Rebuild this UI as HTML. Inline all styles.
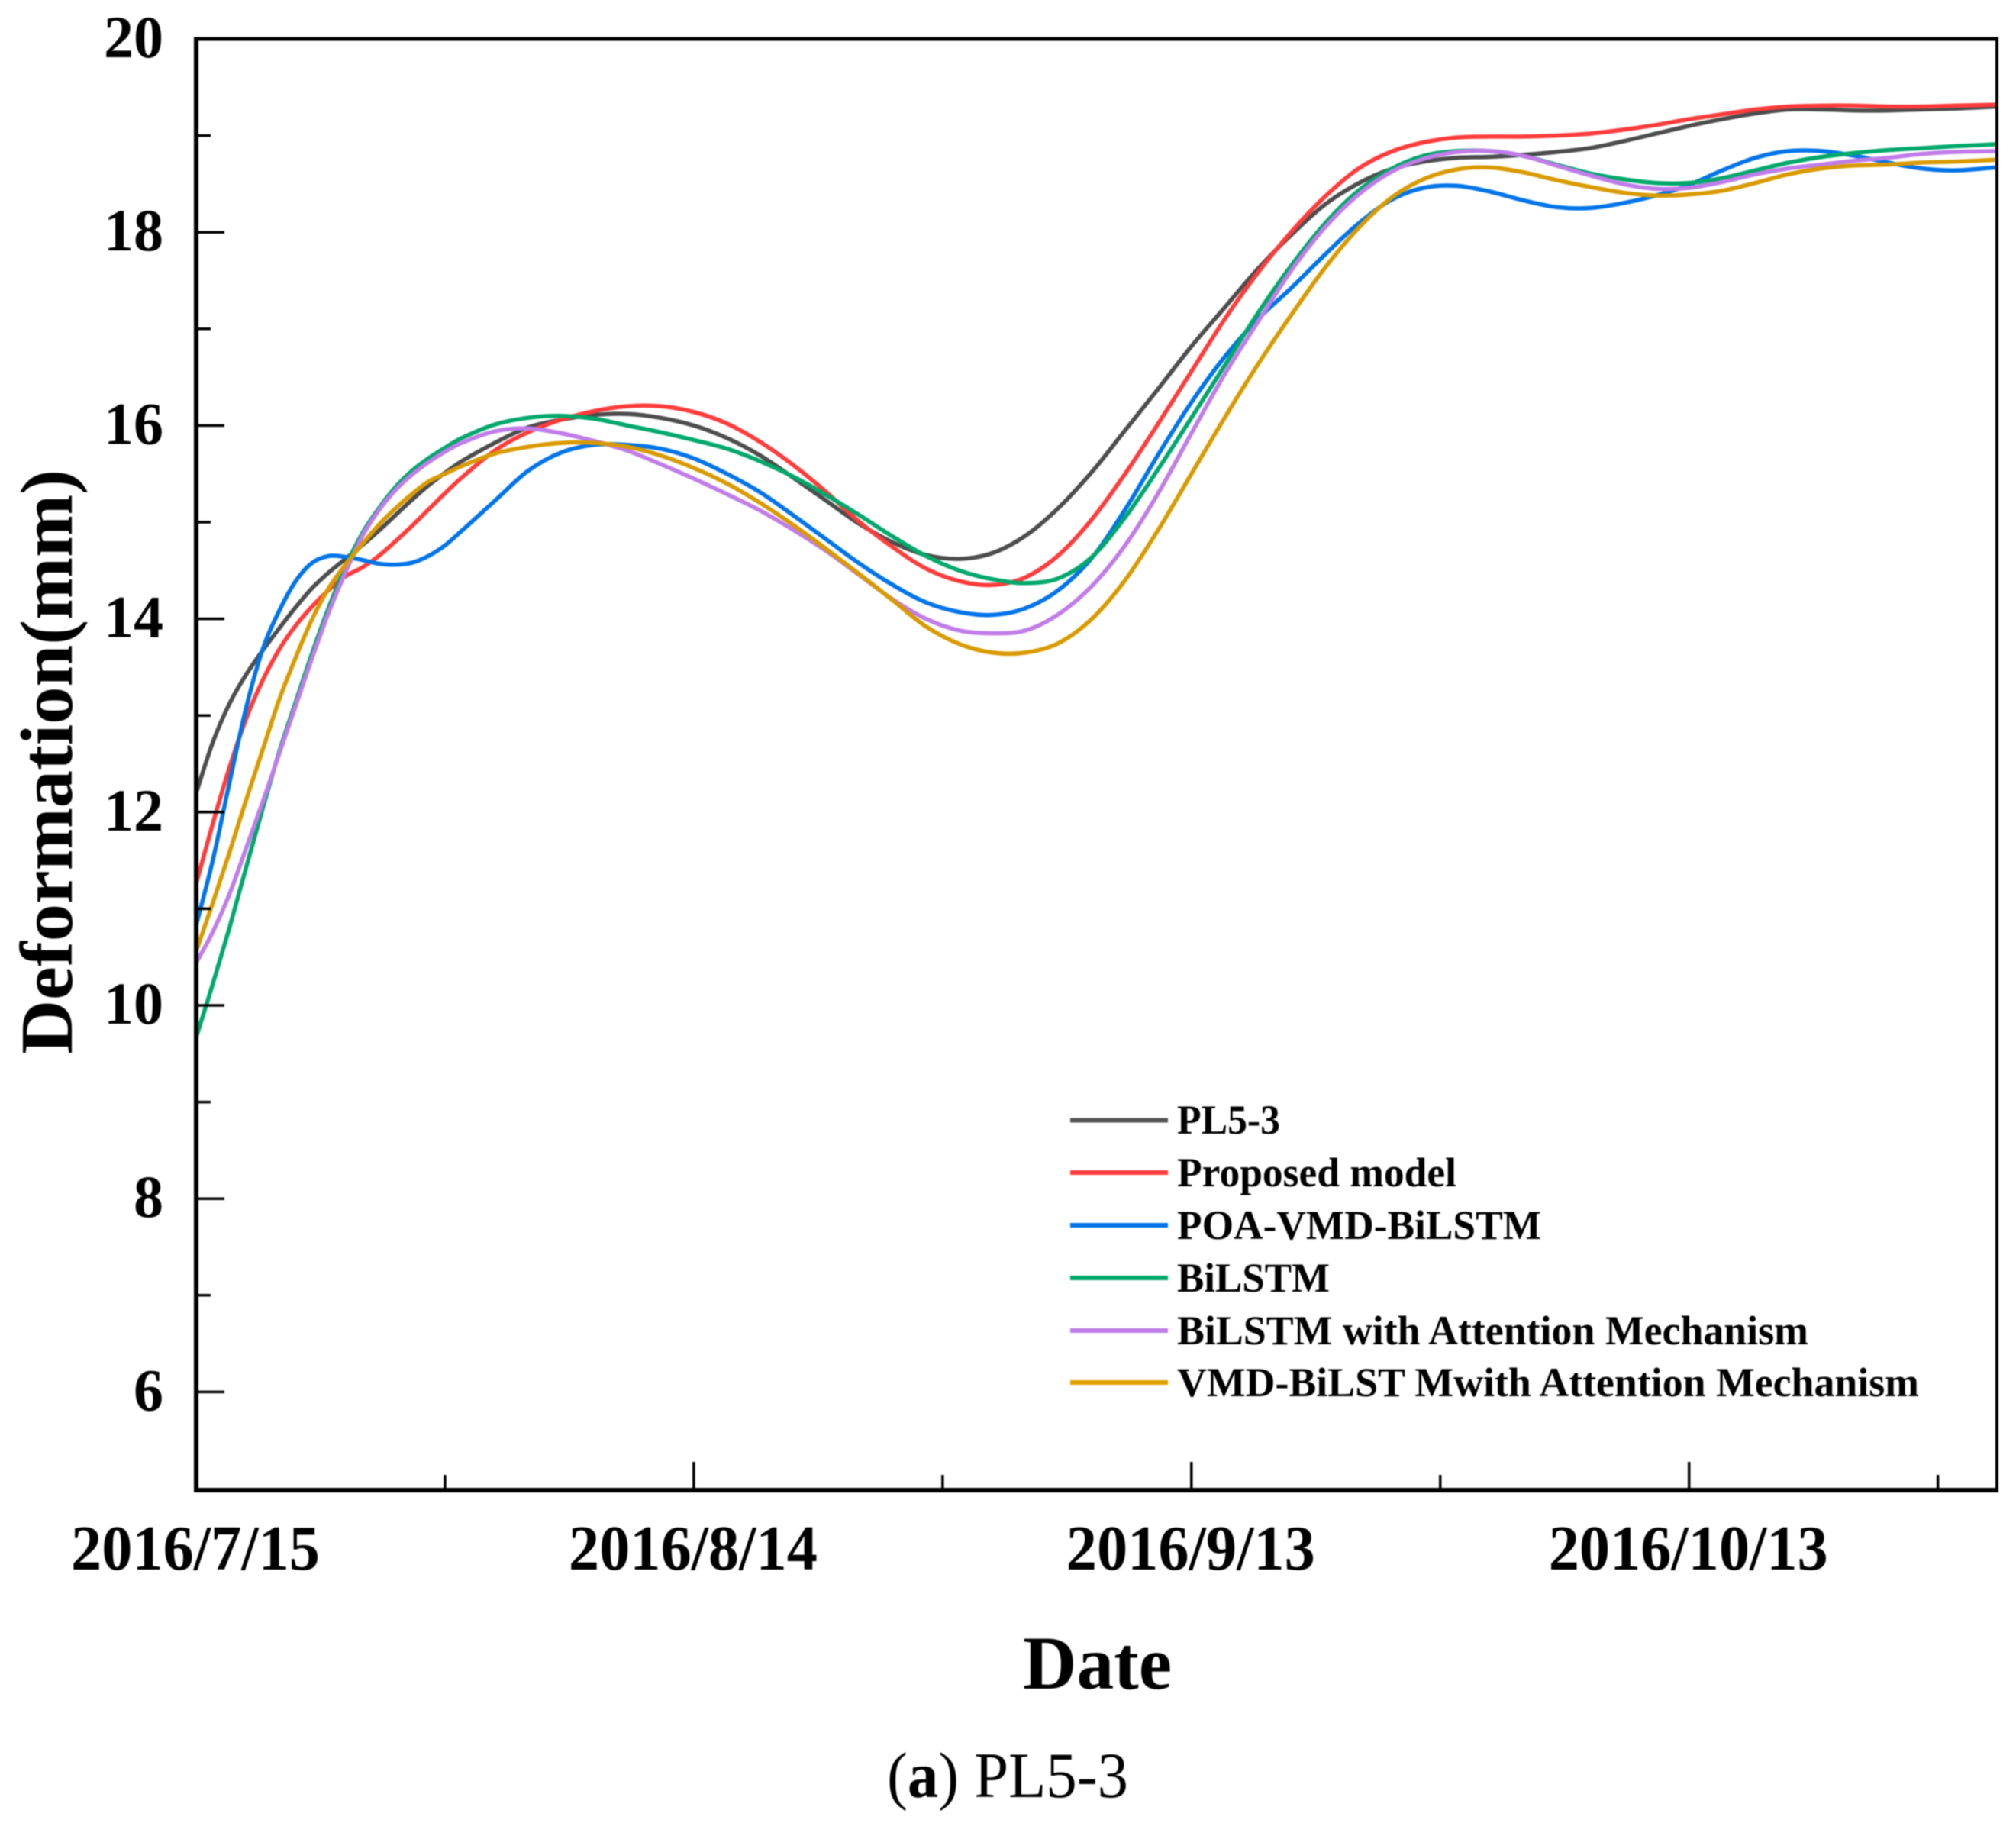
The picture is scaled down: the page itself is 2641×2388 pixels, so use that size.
<!DOCTYPE html>
<html lang="en">
<head>
<meta charset="utf-8">
<title>PL5-3 deformation</title>
<style>
html,body{margin:0;padding:0;background:#fff;}
svg{display:block;filter:blur(0.8px);}
text{font-family:"Liberation Serif",serif;fill:#000;}
.b{font-weight:bold;}
</style>
</head>
<body>
<svg id="chart" xmlns="http://www.w3.org/2000/svg" width="2641" height="2388" viewBox="0 0 2641 2388">
<rect x="0" y="0" width="2641" height="2388" fill="#ffffff"/>
<g id="lines" fill="none" stroke-width="5.5" stroke-linejoin="round"></g>
<g id="axes" stroke="#000" fill="none"></g>
<g id="ylabels"></g>
<g id="xlabels"></g>
<text class="b" font-size="98" text-anchor="middle" textLength="766" lengthAdjust="spacingAndGlyphs" transform="translate(94 998) rotate(-90)">Deformation(mm)</text>
<text class="b" font-size="100" x="1340" y="2212" textLength="195" lengthAdjust="spacingAndGlyphs">Date</text>
<g>
<g>
<line x1="1402" x2="1530" y1="1467.5" y2="1467.5" stroke="#555555" stroke-width="6"/>
<text class="b" font-size="54" x="1542" y="1485" textLength="135" lengthAdjust="spacingAndGlyphs">PL5-3</text>
</g>
<g>
<line x1="1402" x2="1530" y1="1536" y2="1536" stroke="#ff3b3b" stroke-width="6"/>
<text class="b" font-size="54" x="1542" y="1554" textLength="366" lengthAdjust="spacingAndGlyphs">Proposed model</text>
</g>
<g>
<line x1="1402" x2="1530" y1="1605" y2="1605" stroke="#0074e8" stroke-width="6"/>
<text class="b" font-size="54" x="1542" y="1623" textLength="477" lengthAdjust="spacingAndGlyphs">POA-VMD-BiLSTM</text>
</g>
<g>
<line x1="1402" x2="1530" y1="1674" y2="1674" stroke="#00a86b" stroke-width="6"/>
<text class="b" font-size="54" x="1542" y="1692" textLength="200" lengthAdjust="spacingAndGlyphs">BiLSTM</text>
</g>
<g>
<line x1="1402" x2="1530" y1="1743" y2="1743" stroke="#c07ce8" stroke-width="6"/>
<text class="b" font-size="54" x="1542" y="1761" textLength="827" lengthAdjust="spacingAndGlyphs">BiLSTM with Attention Mechanism</text>
</g>
<g>
<line x1="1402" x2="1530" y1="1811" y2="1811" stroke="#e0a000" stroke-width="6"/>
<text class="b" font-size="54" x="1542" y="1829" textLength="972" lengthAdjust="spacingAndGlyphs">VMD-BiLST Mwith Attention Mechanism</text>
</g>
</g>
<text font-size="85" x="1162" y="2354" textLength="316" lengthAdjust="spacingAndGlyphs">(<tspan class="b">a</tspan>) PL5-3</text>
</svg>
<script>
// Days since 2016/7/15 at which values were read
const days = [0,1,2,3,4,5,6,7,8,9,10,11,12,13,14,15,16,18,20,22,24,26,28,30,32,34,36,38,40,42,44,46,48,50,52,54,56,58,60,62,64,66,68,70,72,74,76,78,80,82,84,86,88,90,92,94,96,98,100,102,104,106,108.5];

const pl53Values = [12.2,12.72,13.12,13.42,13.67,13.9,14.12,14.32,14.48,14.62,14.76,14.91,15.07,15.23,15.38,15.51,15.63,15.82,15.98,16.06,16.11,16.12,16.08,16.0,15.87,15.69,15.46,15.22,14.98,14.79,14.66,14.62,14.68,14.86,15.15,15.52,15.95,16.38,16.82,17.22,17.62,17.97,18.28,18.5,18.65,18.73,18.77,18.78,18.8,18.83,18.87,18.94,19.02,19.1,19.17,19.23,19.27,19.27,19.26,19.26,19.27,19.28,19.3];
const proposedValues = [11.26,11.88,12.46,12.96,13.36,13.68,13.93,14.13,14.3,14.44,14.53,14.65,14.8,14.96,15.13,15.3,15.46,15.74,15.93,16.06,16.15,16.2,16.2,16.14,16.02,15.83,15.59,15.31,15.0,14.74,14.52,14.39,14.35,14.43,14.66,15.03,15.5,16.02,16.56,17.1,17.58,18.0,18.36,18.65,18.83,18.93,18.98,18.99,18.99,19.0,19.02,19.06,19.11,19.17,19.22,19.27,19.3,19.31,19.31,19.3,19.3,19.31,19.32];
const poaVmdValues = [10.83,11.5,12.3,13.07,13.68,14.08,14.39,14.58,14.65,14.64,14.61,14.57,14.56,14.58,14.65,14.76,14.91,15.22,15.53,15.72,15.8,15.8,15.76,15.66,15.5,15.31,15.07,14.82,14.57,14.35,14.17,14.07,14.04,14.11,14.3,14.63,15.13,15.7,16.24,16.71,17.1,17.42,17.76,18.08,18.33,18.46,18.48,18.42,18.33,18.26,18.25,18.3,18.38,18.49,18.64,18.77,18.84,18.84,18.79,18.72,18.66,18.64,18.67];
const bilstmValues = [9.67,10.22,10.8,11.42,12.03,12.62,13.14,13.65,14.12,14.54,14.88,15.14,15.36,15.53,15.66,15.77,15.87,16.01,16.08,16.1,16.07,16.0,15.93,15.85,15.76,15.63,15.47,15.28,15.07,14.85,14.65,14.5,14.41,14.37,14.42,14.64,15.05,15.55,16.08,16.62,17.16,17.65,18.08,18.42,18.65,18.79,18.84,18.84,18.79,18.7,18.61,18.55,18.51,18.51,18.56,18.64,18.72,18.78,18.82,18.85,18.87,18.89,18.91];
const bilstmAttentionValues = [10.44,10.76,11.15,11.62,12.1,12.6,13.1,13.6,14.07,14.48,14.85,15.12,15.33,15.49,15.62,15.73,15.82,15.94,15.97,15.92,15.84,15.74,15.6,15.45,15.29,15.12,14.92,14.7,14.45,14.2,14.0,13.88,13.85,13.88,14.05,14.34,14.76,15.3,15.92,16.53,17.07,17.6,18.04,18.38,18.62,18.76,18.83,18.84,18.79,18.69,18.59,18.5,18.45,18.46,18.52,18.6,18.66,18.7,18.74,18.77,18.81,18.83,18.84];
const vmdBilstmAttentionValues = [10.56,11.06,11.58,12.12,12.64,13.16,13.6,14.0,14.32,14.56,14.77,14.97,15.14,15.29,15.42,15.5,15.58,15.71,15.78,15.82,15.82,15.78,15.69,15.56,15.4,15.2,14.97,14.72,14.46,14.19,13.92,13.74,13.65,13.65,13.75,14.0,14.4,14.92,15.5,16.08,16.63,17.14,17.62,18.03,18.35,18.55,18.65,18.67,18.62,18.54,18.47,18.41,18.38,18.39,18.43,18.51,18.6,18.66,18.69,18.7,18.72,18.73,18.75];

const yMajorTicks = [20,18,16,14,12,10,8,6];
const yMinorTicks = [19,17,15,13,11,9,7];
const xMajorTickDays = [0,30,60,90];
const xMinorTickDays = [15,45,75,105];
const xTickLabels = ["2016/7/15","2016/8/14","2016/9/13","2016/10/13"];

const NS = "http://www.w3.org/2000/svg";
function xScale(day){ return 257 + day * 21.73; }
function yScale(v){ return 51 + (20 - v) * 126.6; }

function curvePath(xs, ys){
  const n = xs.length;
  const px = xs.map(xScale), py = ys.map(yScale);
  const m = [];
  for(let i=0;i<n;i++){
    const a = Math.max(0,i-1), b = Math.min(n-1,i+1);
    m.push((py[b]-py[a])/(px[b]-px[a]));
  }
  let d = "M"+px[0].toFixed(1)+" "+py[0].toFixed(1);
  for(let i=0;i<n-1;i++){
    const h = (px[i+1]-px[i])/3;
    d += "C"+(px[i]+h).toFixed(1)+" "+(py[i]+m[i]*h).toFixed(1)+" "+(px[i+1]-h).toFixed(1)+" "+(py[i+1]-m[i+1]*h).toFixed(1)+" "+px[i+1].toFixed(1)+" "+py[i+1].toFixed(1);
  }
  return d;
}

const linesGroup = document.getElementById("lines");
function addSeries(name, values, color){
  const p = document.createElementNS(NS,"path");
  p.setAttribute("d", curvePath(days, values));
  p.setAttribute("stroke", color);
  
  
  linesGroup.appendChild(p);
}
addSeries("line-pl5-3", pl53Values, "#4d4d4d");
addSeries("line-proposed-model", proposedValues, "#ff3b3b");
addSeries("line-poa-vmd-bilstm", poaVmdValues, "#0074e8");
addSeries("line-bilstm", bilstmValues, "#00a86b");
addSeries("line-bilstm-attention", bilstmAttentionValues, "#c07ce8");
addSeries("line-vmd-bilstm-attention", vmdBilstmAttentionValues, "#d99a00");

const axesGroup = document.getElementById("axes");
function addLine(name, x1, y1, x2, y2, w){
  const l = document.createElementNS(NS,"line");
  l.setAttribute("x1",x1); l.setAttribute("y1",y1);
  l.setAttribute("x2",x2); l.setAttribute("y2",y2);
  l.setAttribute("stroke-width",w);
  
  
  axesGroup.appendChild(l);
}
const plotLeft = xScale(0), plotRight = 2616, plotTop = 51, plotBottom = 1952;
addLine("axis-left", plotLeft, plotTop-2.5, plotLeft, plotBottom+3, 6);
addLine("axis-top", plotLeft-3, plotTop, plotRight+2, plotTop, 5);
addLine("axis-right", plotRight, plotTop-2.5, plotRight, plotBottom+3, 4);
addLine("axis-bottom", plotLeft-3, plotBottom, plotRight+2, plotBottom, 6);

const yLabelGroup = document.getElementById("ylabels");
yMajorTicks.forEach(function(v){
  addLine("y-tick-major", plotLeft, yScale(v), plotLeft+37, yScale(v), 3.5);
  const t = document.createElementNS(NS,"text");
  t.setAttribute("x", 214);
  t.setAttribute("y", yScale(v)+24);
  t.setAttribute("text-anchor","end");
  t.setAttribute("font-size","78");
  t.setAttribute("class","b");
  
  
  t.textContent = String(v);
  yLabelGroup.appendChild(t);
});
yMinorTicks.forEach(function(v){
  addLine("y-tick-minor", plotLeft, yScale(v), plotLeft+19, yScale(v), 3.5);
});

const xLabelGroup = document.getElementById("xlabels");
xMajorTickDays.forEach(function(d,i){
  if(i>0){ addLine("x-tick-major", xScale(d), plotBottom, xScale(d), plotBottom-37, 3.5); }
  const t = document.createElementNS(NS,"text");
  t.setAttribute("x", xScale(d)-1);
  t.setAttribute("y", 2056);
  t.setAttribute("text-anchor","middle");
  t.setAttribute("font-size","84");
  t.setAttribute("class","b");
  t.setAttribute("textLength", xTickLabels[i].length > 9 ? 366 : 326);
  t.setAttribute("lengthAdjust","spacingAndGlyphs");
  
  
  t.textContent = xTickLabels[i];
  xLabelGroup.appendChild(t);
});
xMinorTickDays.forEach(function(d){
  addLine("x-tick-minor", xScale(d), plotBottom, xScale(d), plotBottom-20, 3.5);
});
</script>
</body>
</html>
